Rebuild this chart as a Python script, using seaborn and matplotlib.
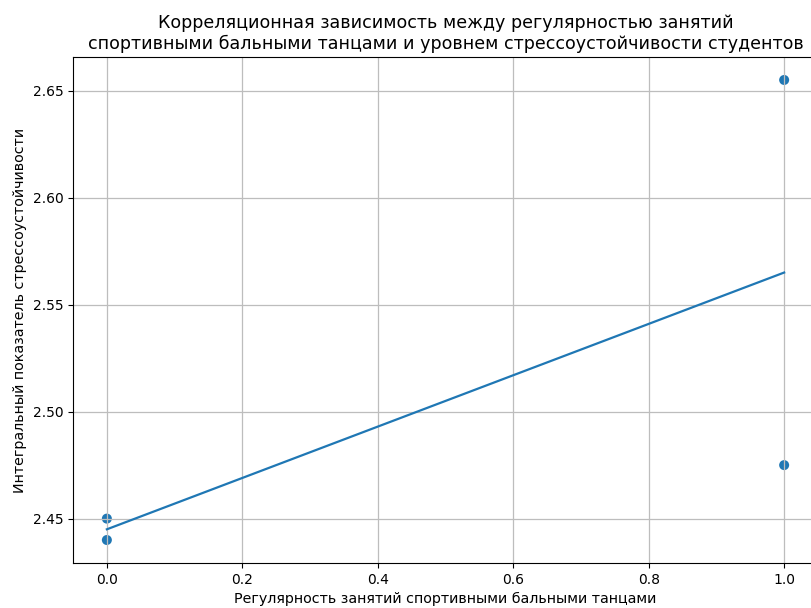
import numpy as np
import pandas as pd
import matplotlib
matplotlib.use("Agg")
import matplotlib.pyplot as plt
import seaborn as sns

# Regularity of ballroom dance practice (0 = irregular, 1 = regular)
regularity = [0, 0, 1, 1]
# Integral stress-resistance score
stress_score = [2.45, 2.44, 2.655, 2.475]

df = pd.DataFrame({"x": regularity, "y": stress_score})

# Least-squares trend line
slope, intercept = np.polyfit(df["x"], df["y"], 1)
line_x = np.array([min(regularity), max(regularity)])
line_df = pd.DataFrame({"x": line_x, "y": slope * line_x + intercept})

fig = plt.figure(figsize=(8.12, 6.08), dpi=100)
ax = fig.add_axes([0.0899, 0.074, 0.9175, 0.8323])

sns.scatterplot(data=df, x="x", y="y", ax=ax, color="#1f77b4", s=52,
                edgecolor="none", linewidth=0, zorder=1)
sns.lineplot(data=line_df, x="x", y="y", ax=ax, color="#1f77b4", linewidth=1.6, zorder=2)

ax.grid(True, color="#bdbdbd", linewidth=0.9)
ax.set_axisbelow("line")
ax.tick_params(labelsize=10)
ax.set_xlabel("Регулярность занятий спортивными бальными танцами", fontsize=10.3)
ax.set_ylabel("Интегральный показатель стрессоустойчивости", fontsize=10.3)
ax.set_title("Корреляционная зависимость между регулярностью занятий\n"
             "спортивными бальными танцами и уровнем стрессоустойчивости студентов",
             fontsize=12.6)

fig.savefig("out.png", dpi=100)
